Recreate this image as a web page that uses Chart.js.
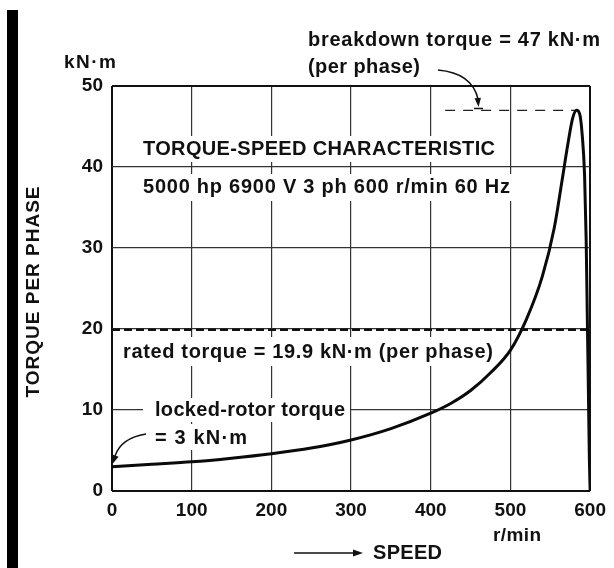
<!DOCTYPE html>
<html>
<head>
<meta charset="utf-8">
<script src="https://cdn.jsdelivr.net/npm/chart.js@4/dist/chart.umd.min.js"></script>
<style>
  html, body { margin: 0; padding: 0; background: #fff; }
  #c { display: block; }
</style>
</head>
<body>
<canvas id="c" width="614" height="568"></canvas>
<script>
// ---- data ----
const speed  = [0, 50, 100, 150, 200, 250, 300, 350, 400, 425, 450, 475, 500, 520, 540, 555, 565, 572, 578, 583, 587, 590, 593, 595, 596.5, 598, 599, 600];
const torque = [3.0, 3.3, 3.6, 4.05, 4.6, 5.3, 6.3, 7.7, 9.6, 10.8, 12.4, 14.6, 17.4, 21.2, 26.5, 32.5, 38.5, 42.8, 46.0, 47.0, 46.5, 44.0, 39.0, 31.0, 21.0, 11.0, 4.0, 0];
const ratedSpeed = [0, 600];
const ratedTorque = [19.9, 19.9];
const breakdownSpeed = [418, 583];
const breakdownTorque = [47, 47];
const xTickValues = [0, 100, 200, 300, 400, 500, 600];
const yTickValues = [0, 10, 20, 30, 40, 50];

const yUnit = 'kN·m';
const xUnit = 'r/min';
const yTitle = 'TORQUE PER PHASE';
const xTitle = 'SPEED';
const chartTitle = 'TORQUE-SPEED CHARACTERISTIC';
const chartSubtitle = '5000 hp 6900 V 3 ph 600 r/min 60 Hz';
const breakdownLabel = ['breakdown torque = 47 kN·m', '(per phase)'];
const ratedLabel = 'rated torque = 19.9 kN·m (per phase)';
const lockedLabel = ['locked-rotor torque', '= 3 kN·m'];

const FONT = '"Liberation Sans", Arial, sans-serif';

function pts(xs, ys) { return xs.map((x, i) => ({ x: x, y: ys[i] })); }

function fitText(ctx, s, x, y, size, width, opts) {
  opts = opts || {};
  ctx.save();
  ctx.font = (opts.weight || 'bold') + ' ' + size + 'px ' + FONT;
  ctx.fillStyle = '#111';
  ctx.textAlign = 'left';
  ctx.textBaseline = 'middle';
  if ('letterSpacing' in ctx) ctx.letterSpacing = '0px';
  const w = ctx.measureText(s).width;
  if (width && 'letterSpacing' in ctx && s.length > 1) {
    ctx.letterSpacing = ((width - w) / (s.length - 1)) + 'px';
  }
  if (opts.rotate) {
    ctx.translate(x, y);
    ctx.rotate(-Math.PI / 2);
    ctx.fillText(s, -width / 2, 0);
  } else {
    ctx.fillText(s, x, y);
  }
  ctx.restore();
}

function arrowHead(ctx, tx, ty, angle, len, half) {
  ctx.save();
  ctx.translate(tx, ty);
  ctx.rotate(angle);
  ctx.beginPath();
  ctx.moveTo(0, 0);
  ctx.lineTo(-len, -half);
  ctx.lineTo(-len, half);
  ctx.closePath();
  ctx.fill();
  ctx.restore();
}

const decor = {
  id: 'decor',
  beforeDraw(chart) {
    const ctx = chart.ctx;
    ctx.save();
    ctx.fillStyle = '#fff';
    ctx.fillRect(0, 0, chart.width, chart.height);
    ctx.fillStyle = '#000';
    ctx.fillRect(7, 10, 11, 558);
    ctx.restore();
  },
  beforeDatasetsDraw(chart) {
    const ctx = chart.ctx;
    ctx.save();
    ctx.fillStyle = '#fff';
    ctx.fillRect(138, 136, 362, 26);
    ctx.fillRect(138, 174, 377, 27);
    ctx.fillRect(118, 337, 382, 29);
    ctx.fillRect(143, 398, 207, 24);
    ctx.fillRect(143, 424, 112, 26);
    ctx.restore();
  },
  afterDraw(chart) {
    const ctx = chart.ctx;
    fitText(ctx, yUnit, 64, 63, 19, 52);
    fitText(ctx, breakdownLabel[0], 308, 40, 20, 292);
    fitText(ctx, breakdownLabel[1], 308, 67, 20, 112);
    fitText(ctx, chartTitle, 143, 149, 20, 352);
    fitText(ctx, chartSubtitle, 143, 187, 20, 367);
    fitText(ctx, ratedLabel, 123, 352, 20, 370);
    fitText(ctx, lockedLabel[0], 155, 410, 20, 190);
    fitText(ctx, lockedLabel[1], 155, 438, 20, 92);
    fitText(ctx, yTitle, 34, 292, 19, 211, { rotate: true });
    fitText(ctx, xUnit, 493, 536, 19, 48);
    fitText(ctx, xTitle, 373, 553, 20, 69);

    ctx.save();
    ctx.strokeStyle = '#111';
    ctx.fillStyle = '#111';
    ctx.lineWidth = 1.5;
    ctx.beginPath();
    ctx.moveTo(438, 70);
    ctx.quadraticCurveTo(472, 73, 478, 99);
    ctx.stroke();
    arrowHead(ctx, 478.5, 107, Math.PI / 2 - 0.08, 9, 3.2);
    ctx.beginPath();
    ctx.moveTo(474, 108.5);
    ctx.lineTo(483, 108.5);
    ctx.stroke();
    ctx.beginPath();
    ctx.moveTo(146, 434);
    ctx.quadraticCurveTo(121, 438, 115, 456);
    ctx.stroke();
    arrowHead(ctx, 112.5, 464, Math.PI / 2 + 0.35, 9, 3.2);
    ctx.lineWidth = 1.6;
    ctx.beginPath();
    ctx.moveTo(294, 553);
    ctx.lineTo(355, 553);
    ctx.stroke();
    arrowHead(ctx, 363, 553, 0, 10, 3.5);
    ctx.restore();
  }
};

const gridColor = (c) => (c.tick && (c.tick.value === 0 || c.tick.value === 600 || c.tick.value === 50)) ? '#111' : '#333';
const gridWidth = (c) => (c.tick && (c.tick.value === 0 || c.tick.value === 600 || c.tick.value === 50)) ? 2 : 1.2;

new Chart(document.getElementById('c'), {
  type: 'line',
  data: {
    datasets: [
      {
        data: pts(speed, torque),
        borderColor: '#0a0a0a',
        borderWidth: 3,
        pointRadius: 0,
        cubicInterpolationMode: 'monotone',
        fill: false,
        order: 1
      },
      {
        data: pts(ratedSpeed, ratedTorque),
        borderColor: '#111',
        borderWidth: 2.5,
        borderDash: [8, 4],
        pointRadius: 0,
        fill: false,
        order: 2
      },
      {
        data: pts(breakdownSpeed, breakdownTorque),
        borderColor: '#222',
        borderWidth: 1.3,
        borderDash: [10, 8],
        pointRadius: 0,
        fill: false,
        order: 3
      }
    ]
  },
  options: {
    responsive: false,
    animation: false,
    devicePixelRatio: 1,
    layout: { padding: { left: 0, top: 86, right: 17, bottom: 0 } },
    plugins: { legend: { display: false }, tooltip: { enabled: false } },
    scales: {
      x: {
        type: 'linear',
        min: 0, max: 600,
        afterBuildTicks: (s) => { s.ticks = xTickValues.map(v => ({ value: v })); },
        afterFit: (s) => { s.height = 77; },
        border: { display: false },
        grid: { color: gridColor, lineWidth: gridWidth, drawTicks: false },
        ticks: { color: '#111', padding: 8, maxRotation: 0, font: { family: FONT, size: 19, weight: 'bold' } }
      },
      y: {
        type: 'linear',
        min: 0, max: 50,
        afterBuildTicks: (s) => { s.ticks = yTickValues.map(v => ({ value: v })); },
        afterFit: (s) => { s.width = 112; },
        border: { display: false },
        grid: { color: gridColor, lineWidth: gridWidth, drawTicks: false },
        ticks: { color: '#111', padding: 9, font: { family: FONT, size: 19, weight: 'bold' } }
      }
    }
  },
  plugins: [decor]
});
</script>
</body>
</html>
